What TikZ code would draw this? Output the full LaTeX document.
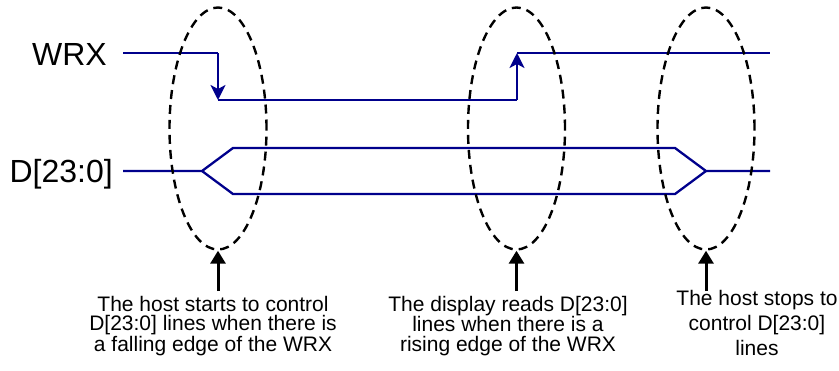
\documentclass[tikz,border=0pt]{standalone}
\usepackage{fontspec}
\setmainfont{Liberation Sans}
\usetikzlibrary{arrows.meta,shapes.geometric}
\definecolor{sigblue}{RGB}{0,0,140}

\begin{document}
\begin{tikzpicture}[x=1pt,y=-1pt,
  sig/.style={draw,sigblue,line width=2.3pt},
  sigedge/.style={sig,-{Stealth[length=15pt,width=15pt,inset=4pt]}},
  ring/.style={draw,ellipse,dash pattern=on 9pt off 6pt,line width=2.4pt,
    minimum width=97pt,minimum height=242pt,inner sep=0pt},
  ptr/.style={draw,line width=3pt,-{Triangle[length=13pt,width=15pt]}},
  signame/.style={inner sep=0pt,font=\fontsize{32}{32}\selectfont},
  note/.style={inner sep=0pt,align=center,anchor=north,font=\fontsize{21}{19.5}\selectfont}]
\useasboundingbox (0,0) rectangle (839,370);

\node[signame,anchor=base east] (wrx) at (107,65) {WRX};
\node[signame,anchor=base east] (bus) at (113,182) {D[23:0]};

% WRX waveform
\coordinate (w0) at (123,53);
\coordinate (w1) at (218,53);
\coordinate (w2) at (218,100);
\coordinate (w3) at (517,100);
\coordinate (w4) at (517,53);
\coordinate (w5) at (770,53);
\path[sig] (w0) -- (w1);
\path[sigedge] (w1) -- (w2);
\path[sig] (w2) -- (w3);
\path[sigedge] (w3) -- (w4);
\path[sig] (w4) -- (w5);

% data bus
\coordinate (d0) at (123,171);
\coordinate (d1) at (202,171);
\coordinate (u1) at (233,148);
\coordinate (u2) at (675,148);
\coordinate (l1) at (233,194);
\coordinate (l2) at (675,194);
\coordinate (d2) at (706,171);
\coordinate (d3) at (770,171);
\path[sig] (d0) -- (d1) -- (u1) -- (u2) -- (d2) -- (d3);
\path[sig] (d1) -- (l1) -- (l2) -- (d2);

\node[ring] (fall) at (218,128.5) {};
\node[ring] (rise) at (516.5,128.5) {};
\node[ring] (stop) at (706,128.5) {};

\coordinate (pf) at (218,291);
\coordinate (pr) at (516.5,291);
\coordinate (ps) at (706,291);
\path[ptr] (pf) -- (fall.south);
\path[ptr] (pr) -- (rise.south);
\path[ptr] (ps) -- (stop.south);

\node[note] (nf) at (213,296) {The host starts to control\\D[23:0] lines when there is\\a falling edge of the WRX};
\node[note] (nr) at (508,296) {The display reads D[23:0]\\lines when there is a\\rising edge of the WRX};
\node[note,font=\fontsize{21}{25}\selectfont] (ns) at (757,290) {The host stops to\\control D[23:0]\\lines};
\end{tikzpicture}
\end{document}
